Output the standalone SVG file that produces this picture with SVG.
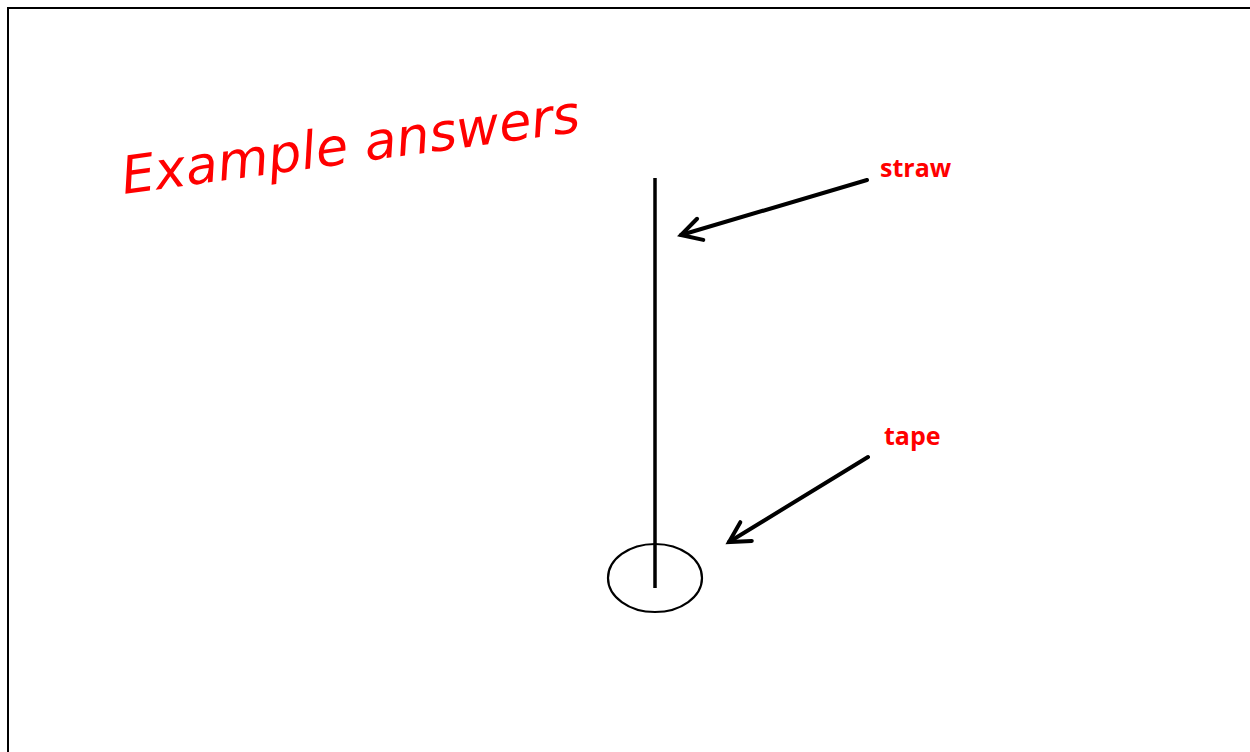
<svg xmlns="http://www.w3.org/2000/svg" width="1250" height="752" viewBox="0 0 1250 752">
<style>
.lbl{font-family:"Open Sans","Liberation Sans",sans-serif;font-weight:bold;font-size:25px;fill:#ff0000}
.conn{stroke:#000;stroke-width:4;fill:none;stroke-linecap:round}
</style>
<defs>
<marker id="arr" viewBox="-30 -15 36 30" refX="0" refY="0" markerWidth="36" markerHeight="30" markerUnits="userSpaceOnUse" orient="auto" overflow="visible">
<path d="M-20,-11 L0,0 L-20,11" stroke="#000" stroke-width="4" fill="none" stroke-linecap="round" stroke-linejoin="miter"/>
</marker>
</defs>
<rect width="1250" height="752" fill="#fff"/>
<path d="M8,752 V8 H1250" stroke="#000" stroke-width="2" fill="none"/>
<g id="title">
<text x="0" y="0" transform="translate(124,194) rotate(-7.8)" font-family="'DejaVu Sans',sans-serif" font-size="52" font-style="italic" fill="#ff0000" textLength="462" lengthAdjust="spacingAndGlyphs">Example answers</text>
</g>
<g id="straw">
<line x1="655" y1="178" x2="655" y2="588" stroke="#000" stroke-width="3.5"/>
</g>
<g id="tape">
<ellipse cx="655" cy="578" rx="47" ry="34" stroke="#000" stroke-width="2.2" fill="none"/>
</g>
<g id="label-straw"><text class="lbl" x="880" y="177">straw</text></g>
<g id="label-tape"><text class="lbl" x="884" y="445">tape</text></g>
<g id="connectors">
<line class="conn" x1="867" y1="180" x2="681" y2="235" marker-end="url(#arr)"/>
<line class="conn" x1="868" y1="457" x2="729" y2="542" marker-end="url(#arr)"/>
</g>
</svg>
